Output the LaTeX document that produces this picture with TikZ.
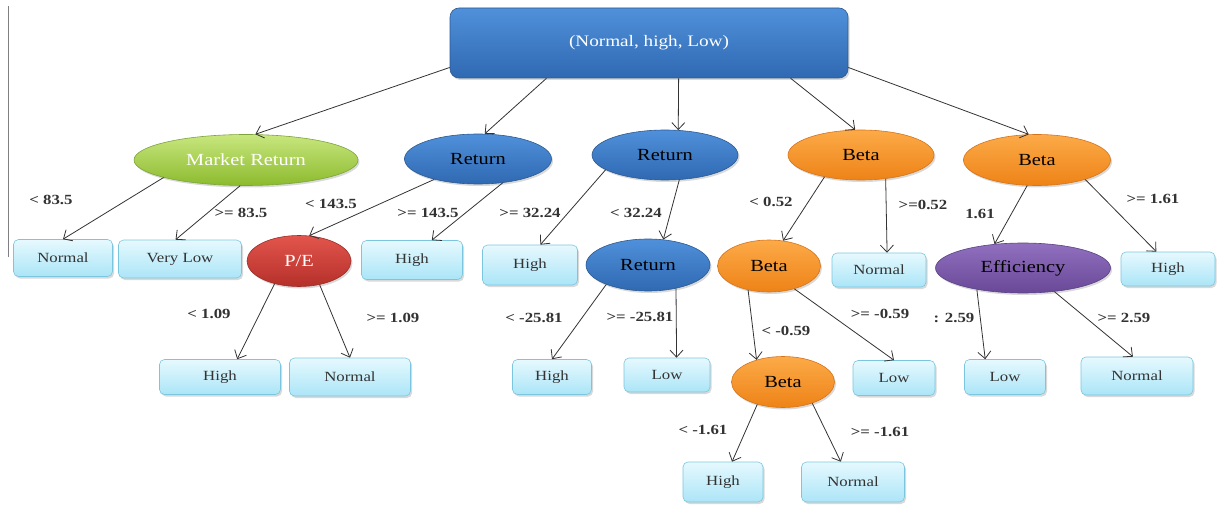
\documentclass[tikz,border=0pt]{standalone}
\usepackage{fontspec}
\setmainfont[FakeStretch=1.2]{Liberation Serif}
\usetikzlibrary{
	shapes.geometric
	,arrows.meta
	,shadows
}
\definecolor{edgegray}{HTML}{333333}
\definecolor{blueT}{HTML}{5090DA}
\definecolor{blueB}{HTML}{2F69B2}
\definecolor{blueD}{HTML}{2B5A92}
\definecolor{greenT}{HTML}{C8E67E}
\definecolor{greenB}{HTML}{8CBB2E}
\definecolor{greenD}{HTML}{7DA43A}
\definecolor{redT}{HTML}{E2554C}
\definecolor{redB}{HTML}{B5302A}
\definecolor{redD}{HTML}{9B2C27}
\definecolor{orangeT}{HTML}{FCAA48}
\definecolor{orangeB}{HTML}{EE8317}
\definecolor{orangeD}{HTML}{D6741A}
\definecolor{purpleT}{HTML}{9270C0}
\definecolor{purpleB}{HTML}{684897}
\definecolor{purpleD}{HTML}{5B4185}
\definecolor{leafT}{HTML}{E6F9FE}
\definecolor{leafB}{HTML}{ABE5F7}
\definecolor{leafD}{HTML}{7BC6DE}
\tikzset{
	wh/.style 2 args={
		minimum width=#1pt
		,minimum height=#2pt
	}
	,shade/.style n args={3}{
		top color=#1
		,bottom color=#2
		,draw=#3
	}
	,split/.style={
		ellipse
		,inner sep=0pt
		,line width=0.6pt
		,drop shadow={shadow xshift=1.5pt,shadow yshift=-2pt,opacity=0.3}
		,font=\fontsize{17}{20}\selectfont
	}
	,leaf/.style={
		rectangle
		,rounded corners=5pt
		,inner sep=0pt
		,line width=0.6pt
		,shade={leafT}{leafB}{leafD}
		,drop shadow={shadow xshift=1.5pt,shadow yshift=-2pt,opacity=0.3}
		,font=\fontsize{14}{16}\selectfont
	}
	,cond/.style={
		inner sep=0pt
		,font=\fontsize{14}{16}\selectfont\bfseries
	}
}
\tikzset{
	>={Straight Barb[length=7pt,width=13pt]}
	,every picture/.append style={line width=0.8pt, edgegray}
}

\begin{document}
\begin{tikzpicture}[x=1pt, y=-1pt]
\useasboundingbox (0,0) rectangle (1217,505);
\draw[gray, line width=1pt] (8,6) -- (8,257);

% root
\node[rectangle, rounded corners=9pt, line width=0.6pt, shade={blueT}{blueB}{blueD}, wh={398}{70},
	drop shadow={shadow xshift=1.5pt,shadow yshift=-2pt,opacity=0.3},
	text=white, font=\fontsize{16}{19}\selectfont] (root) at (649,43) {(Normal, high, Low)};

% first level
\node[split, shade={greenT}{greenB}{greenD}, text=white, wh={224}{51}] (mr) at (246,160) {Market Return};
\node[split, shade={blueT}{blueB}{blueD}, text=black, wh={147}{50}] (ret1) at (478,159) {Return};
\node[split, shade={blueT}{blueB}{blueD}, text=black, wh={146}{50}] (ret2) at (665,155) {Return};
\node[split, shade={orangeT}{orangeB}{orangeD}, text=black, wh={146}{50}] (beta1) at (861,155) {Beta};
\node[split, shade={orangeT}{orangeB}{orangeD}, text=black, wh={147}{51}] (beta2) at (1037,160) {Beta};

% second level
\node[leaf, wh={99}{37}] (normal1) at (63,258) {Normal};
\node[leaf, wh={123}{38}] (verylow) at (180,259) {Very Low};
\node[split, shade={redT}{redB}{redD}, text=white, wh={104}{51}] (pe) at (299,261) {P/E};
\node[leaf, wh={101}{39}] (high1) at (412,260) {High};
\node[leaf, wh={95}{40}] (high2) at (530,265) {High};
\node[split, shade={blueT}{blueB}{blueD}, text=black, wh={124}{52}] (ret3) at (648,265) {Return};
\node[split, shade={orangeT}{orangeB}{orangeD}, text=black, wh={103}{52}] (beta3) at (769,266) {Beta};
\node[leaf, wh={94}{34}] (normal2) at (879,270) {Normal};
\node[split, shade={purpleT}{purpleB}{purpleD}, text=black, wh={175}{50}] (eff) at (1023,268) {Efficiency};
\node[leaf, wh={94}{34}] (high3) at (1168,269) {High};

% third level
\node[leaf, wh={121}{35}] (high4) at (220,377) {High};
\node[leaf, wh={121}{38}] (normal3) at (350,377) {Normal};
\node[leaf, wh={79}{35}] (high5) at (552,377) {High};
\node[leaf, wh={86}{34}] (low1) at (667,375) {Low};
\node[split, shade={orangeT}{orangeB}{orangeD}, text=black, wh={103}{51}] (beta4) at (783,382) {Beta};
\node[leaf, wh={82}{35}] (low2) at (894,378) {Low};
\node[leaf, wh={81}{35}] (low3) at (1005,377) {Low};
\node[leaf, wh={112}{38}] (normal4) at (1137,376) {Normal};

% fourth level
\node[leaf, wh={80}{40}] (high6) at (723,482) {High};
\node[leaf, wh={103}{40}] (normal5) at (853,482) {Normal};

% branches
\draw[->] (root.187) -- (mr.70);
\draw[->] (root.199) -- (ret1.75);
\draw[->] (root.-50) -- (ret2.62);
\draw[->] (root.-14) -- (beta1.103);
\draw[->] (root.-7) -- (beta2.108);
\draw[->] (mr.192) -- (normal1.north);
\draw[->] (mr.257) -- (verylow.103);
\draw[->] (ret1.205) -- (pe.68);
\draw[->] (ret1.-44) -- (high1.45);
\draw[->] (ret2.194) -- (high2.63);
\draw[->] (ret2.-60) -- (ret3.59);
\draw[->] (beta1.211) -- (beta3.61);
\draw[->] (beta1.-44) -- (normal2.65);
\draw[->] (beta2.249) -- (eff.140);
\draw[->] (beta2.-22) -- (high3.124);
\draw[->] (pe.223) -- (high4.46);
\draw[->] (pe.-49) -- (normal3.north);
\draw[->] (ret3.205) -- (high5.north);
\draw[->] (ret3.-40) -- (low1.61);
\draw[->] (beta3.229) -- (beta4.140);
\draw[->] (beta3.-42) -- (low2.north);
\draw[->] (eff.205) -- (low3.138);
\draw[->] (eff.-37) -- (normal4.102);
\draw[->] (beta4.221) -- (high6.66);
\draw[->] (beta4.-36) -- (normal5.121);

% split values
\node[cond] (c1) at (51,200) {< 83.5};
\node[cond] (c2) at (241,213) {>= 83.5};
\node[cond] (c3) at (331,204) {< 143.5};
\node[cond] (c4) at (428,213) {>= 143.5};
\node[cond] (c5) at (530,213) {>= 32.24};
\node[cond] (c6) at (636,213) {< 32.24};
\node[cond] (c7) at (771,202) {< 0.52};
\node[cond] (c8) at (923,205) {>=0.52};
\node[cond] (c9) at (980,214) {1.61};
\node[cond] (c10) at (1153,199) {>= 1.61};
\node[cond] (c11) at (209,314) {< 1.09};
\node[cond] (c12) at (393,318) {>= 1.09};
\node[cond] (c13) at (534,318) {< -25.81};
\node[cond] (c14) at (640,317) {>= -25.81};
\node[cond] (c15) at (786,331) {< -0.59};
\node[cond] (c16) at (880,314) {>= -0.59};
\node[cond] (c17) at (954,318) {: 2.59};
\node[cond] (c18) at (1124,318) {>= 2.59};
\node[cond] (c19) at (703,430) {< -1.61};
\node[cond] (c20) at (880,432) {>= -1.61};
\end{tikzpicture}
\end{document}
